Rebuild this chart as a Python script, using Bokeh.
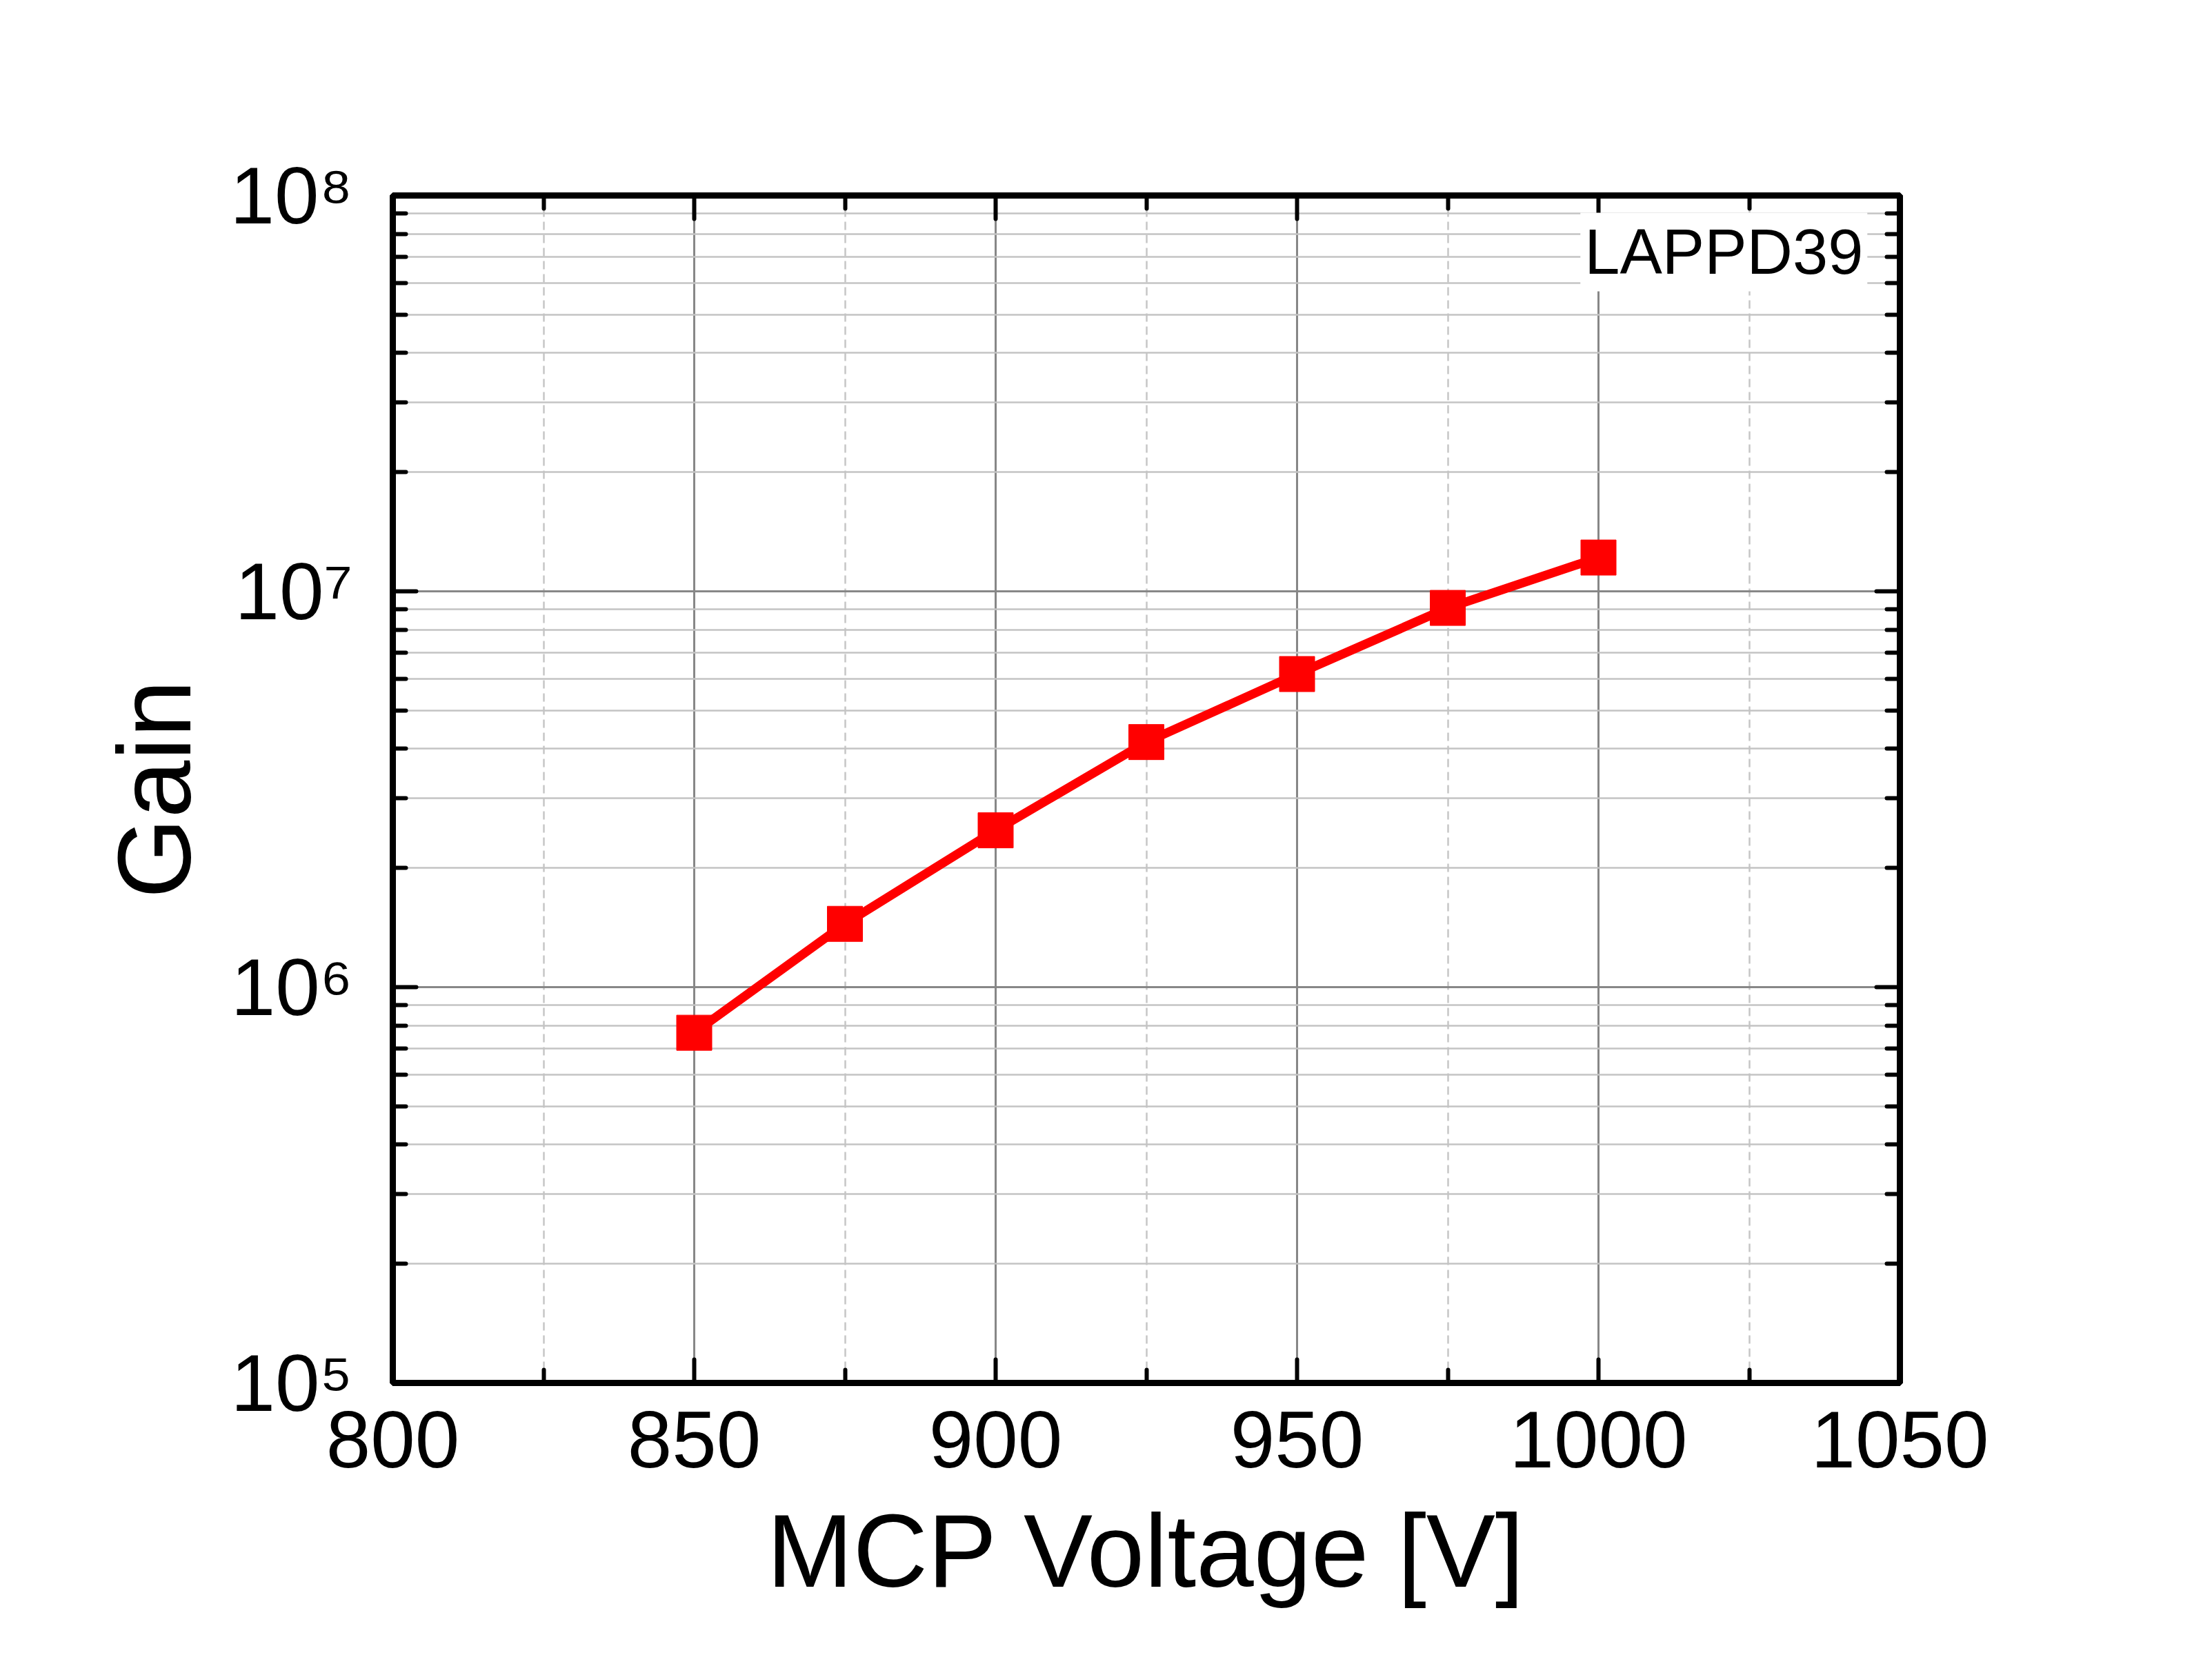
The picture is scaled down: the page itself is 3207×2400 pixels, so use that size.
from bokeh.plotting import figure
from bokeh.models import (FixedTicker, LinearAxis, LogAxis, Label,
                          CustomJSTickFormatter, Range1d)
from bokeh.embed import file_html
from bokeh.resources import INLINE

# ---- data ----
voltage = [850, 875, 900, 925, 950, 975, 1000]
gain = [7.67e5, 1.445e6, 2.49e6, 4.16e6, 6.18e6, 9.08e6, 1.217e7]

x_ticks = [800, 850, 900, 950, 1000, 1050]
x_minor = [825, 875, 925, 975, 1025]
y_ticks = [1e5, 1e6, 1e7, 1e8]
y_labels = ["10\u2075", "10\u2076", "10\u2077", "10\u2078"]
y_minor = [m * d for d in (1e5, 1e6, 1e7) for m in range(2, 10)]

series_name = "LAPPD39"
x_title = "MCP Voltage [V]"
y_title = "Gain"

FONT = "Liberation Sans"

p = figure(width=3190, height=2384, x_range=Range1d(800, 1050),
           y_range=Range1d(1e5, 1e8), y_axis_type="log",
           output_backend="svg", toolbar_location=None,
           min_border_left=569, min_border_right=436,
           min_border_top=283, min_border_bottom=379)
p.background_fill_color = "white"
p.border_fill_color = "white"
p.outline_line_color = "black"
p.outline_line_width = 9

xa = p.below[0]
ya = p.left[0]

xt = FixedTicker(ticks=x_ticks, minor_ticks=x_minor)
yt = FixedTicker(ticks=y_ticks, minor_ticks=y_minor)

blank = CustomJSTickFormatter(code="return '';")

# extra axes for the closed frame
top_ax = LinearAxis(ticker=xt, formatter=blank)
right_ax = LogAxis(ticker=yt, formatter=blank)
p.add_layout(top_ax, "above")
p.add_layout(right_ax, "right")

for ax in [xa, ya, top_ax, right_ax]:
    ax.axis_line_width = 9
    ax.axis_line_color = "black"
    ax.major_tick_in = 34
    ax.major_tick_out = 0
    ax.minor_tick_in = 19
    ax.minor_tick_out = 0
    ax.major_tick_line_width = 6
    ax.minor_tick_line_width = 6
    ax.major_tick_line_cap = "round"
    ax.minor_tick_line_cap = "round"
    ax.major_tick_line_color = "black"
    ax.minor_tick_line_color = "black"

xa.ticker = xt
ya.ticker = yt
ya.major_label_overrides = {t: s for t, s in zip(y_ticks, y_labels)}

for ax in (xa, ya):
    ax.major_label_text_font = FONT
    ax.major_label_text_font_size = "116px"
    ax.major_label_text_color = "black"
    ax.axis_label_text_font = FONT
    ax.axis_label_text_font_size = "150px"
    ax.axis_label_text_font_style = "normal"
    ax.axis_label_text_color = "black"

xa.axis_label = x_title
ya.axis_label = y_title
xa.major_label_standoff = 41
xa.axis_label_standoff = 34
ya.major_label_standoff = 58
ya.axis_label_standoff = 23

# grids
p.xgrid.ticker = xt
p.ygrid.ticker = yt
p.xgrid.grid_line_color = "#878787"
p.xgrid.grid_line_width = 3
p.xgrid.minor_grid_line_color = "#c6c6c6"
p.xgrid.minor_grid_line_width = 2.5
p.xgrid.minor_grid_line_dash = "12 7"
p.ygrid.grid_line_color = "#878787"
p.ygrid.grid_line_width = 3
p.ygrid.minor_grid_line_color = "#c4c4c4"
p.ygrid.minor_grid_line_width = 2.5

# data
p.line(voltage, gain, line_color="#ff0000", line_width=13)
p.scatter(voltage, gain, marker="square", size=51,
          fill_color="#ff0000", line_color="#ff0000", line_width=1)

lab = Label(x=1044.6, y=7.2e7, text=series_name, text_align="right",
            text_baseline="middle", text_font=FONT, text_font_size="92px",
            text_color="black", background_fill_color="white",
            padding=6)
p.add_layout(lab)

open("out.html", "w").write(file_html(p, INLINE))
